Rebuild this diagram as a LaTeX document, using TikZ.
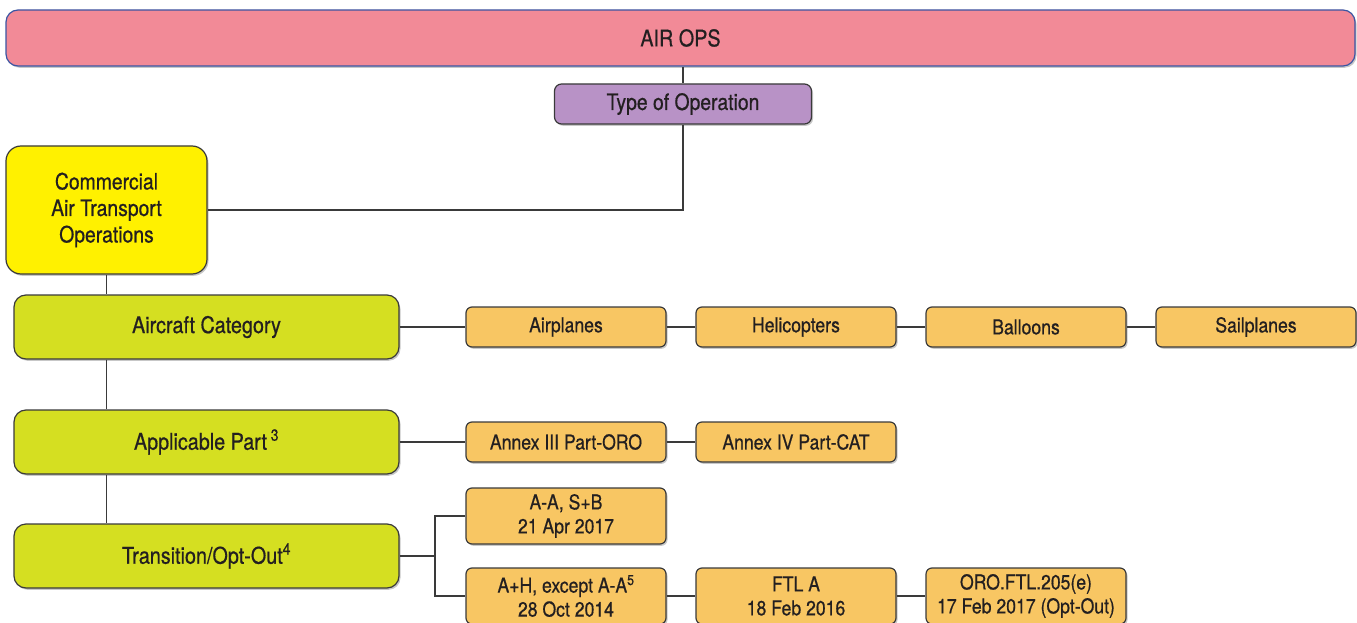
\documentclass[tikz,border=0pt]{standalone}
\usepackage{fontspec}
\setmainfont[FakeStretch=0.86,FakeBold=0.6]{TeX Gyre Heros}
\usetikzlibrary{shadows}
\definecolor{inkc}{HTML}{231F20}
\definecolor{edgec}{HTML}{3A3A3A}
\definecolor{pinkc}{HTML}{F28A97}
\definecolor{bluec}{HTML}{3B55A3}
\definecolor{purplec}{HTML}{B892C6}
\definecolor{yellowc}{HTML}{FFF100}
\definecolor{limec}{HTML}{D5DF21}
\definecolor{orangec}{HTML}{F8C663}
\tikzset{
  basebox/.style={draw=edgec, line width=1.2pt, text=inkc, inner sep=0pt, align=center,
    drop shadow={shadow xshift=1.5pt, shadow yshift=-1.8pt, fill=black, opacity=0.22}},
  topbox/.style={basebox, draw=bluec, fill=pinkc, rounded corners=12pt,
    minimum width=1349pt, minimum height=56pt, font=\fontsize{23}{27}\selectfont},
  opbox/.style={basebox, fill=purplec, rounded corners=7pt,
    minimum width=257pt, minimum height=40pt, font=\fontsize{22.5}{27}\selectfont},
  catbox/.style={basebox, fill=yellowc, rounded corners=15pt,
    minimum width=201pt, minimum height=128pt, font=\fontsize{22.5}{26.5}\selectfont},
  levelbox/.style={basebox, fill=limec, rounded corners=12pt,
    minimum width=385pt, minimum height=64pt, font=\fontsize{23}{27}\selectfont},
  itembox/.style={basebox, fill=orangec, rounded corners=6pt,
    minimum width=200pt, minimum height=40pt, font=\fontsize{20.5}{24}\selectfont},
  tallitem/.style={itembox, minimum height=56pt},
  link/.style={draw=edgec, line width=1.5pt}
}
\begin{document}
\begin{tikzpicture}[x=1pt,y=-1pt]
  \useasboundingbox (0,0) rectangle (1357,623);
  % header and operation type
  \node[topbox] (airops) at (680.5,38) {AIR OPS};
  \node[opbox] (type) at (683,104) {Type of Operation};
  \node[catbox] (cat) at (106.5,210) {Commercial\\Air Transport\\Operations};
  % left column
  \node[levelbox] (acat) at (206.5,327) {Aircraft Category};
  \node[levelbox] (appl) at (206.5,442) {Applicable Part\,\textsuperscript{3}};
  \node[levelbox] (trans) at (206.5,556) {Transition/Opt-Out\textsuperscript{4}};
  % aircraft categories
  \node[itembox] (plane) at (566,327) {Airplanes};
  \node[itembox] (heli) at (796,327) {Helicopters};
  \node[itembox] (balloon) at (1026,327) {Balloons};
  \node[itembox] (sail) at (1256,327) {Sailplanes};
  % applicable parts
  \node[itembox] (oro) at (566,442) {Annex III Part-ORO};
  \node[itembox] (catpart) at (796,442) {Annex IV Part-CAT};
  % transition dates
  \node[tallitem] (aa) at (566,516) {A-A, S+B\\21 Apr 2017};
  \node[tallitem] (ah) at (566,596) {A+H, except A-A\textsuperscript{5}\\28 Oct 2014};
  \node[tallitem] (ftl) at (796,596) {FTL A\\18 Feb 2016};
  \node[tallitem] (optout) at (1026,596) {ORO.FTL.205(e)\\17 Feb 2017 (Opt-Out)};
  % connectors
  \draw[link] (airops.south -| type.north) -- (type.north);
  \draw[link] (type.south) |- (cat.east);
  \draw[link] (cat.south) -- (cat.south |- acat.north);
  \draw[link] (cat.south |- acat.south) -- (cat.south |- appl.north);
  \draw[link] (cat.south |- appl.south) -- (cat.south |- trans.north);
  \draw[link] (acat.east) -- (plane.west);
  \draw[link] (plane.east) -- (heli.west);
  \draw[link] (heli.east) -- (balloon.west);
  \draw[link] (balloon.east) -- (sail.west);
  \draw[link] (appl.east) -- (oro.west);
  \draw[link] (oro.east) -- (catpart.west);
  \coordinate (fork) at (435,556);
  \draw[link] (trans.east) -- (fork);
  \draw[link] (aa.west) -| (fork) |- (ah.west);
  \draw[link] (ah.east) -- (ftl.west);
  \draw[link] (ftl.east) -- (optout.west);
\end{tikzpicture}
\end{document}
